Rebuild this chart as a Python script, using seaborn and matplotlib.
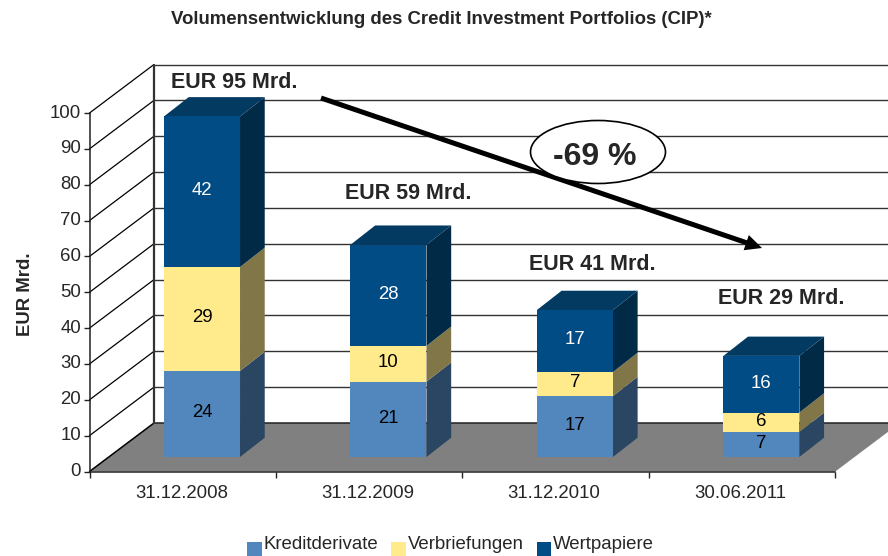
import numpy as np
import seaborn as sns
import matplotlib.pyplot as plt
from matplotlib.patches import Ellipse
from matplotlib.transforms import ScaledTranslation

dates = ["31.12.2008", "31.12.2009", "31.12.2010", "30.06.2011"]
kredit = [24, 21, 17, 7]
verbrief = [29, 10, 6.7, 5.4]
wert = [42, 28.2, 17.3, 15.8]
kredit_lab = ["24", "21", "17", "7"]
verbrief_lab = ["29", "10", "7", "6"]
wert_lab = ["42", "28", "17", "16"]
totals = ["EUR 95 Mrd.", "EUR 59 Mrd.", "EUR 41 Mrd.", "EUR 29 Mrd."]
total_pos = [(171, 83), (345, 193), (529, 265), (718, 299)]
series = ["Kreditderivate", "Verbriefungen", "Wertpapiere"]
front = ["#5287BD", "#FFEB8C", "#014C84"]
side = ["#2A4663", "#807647", "#012A47"]
top_col = "#033A62"

W, H = 888, 556
# axis box in pixels
X0, X1, Y0, Y1 = 89.5, 835.3, 471.5, 113
xu = (X1 - X0) / 4
yu = (Y0 - Y1) / 100
# wall depth and bar depth, in data units
DX, DY = 64.5 / xu, 48.5 / yu
bdx, bdy = 24.7 / xu, 19.3 / yu
shift_x, base = 19.3 / xu, 14.5 / yu
bw = 76 / xu

sns.set_style("white")
plt.rcParams["font.family"] = ["Liberation Sans", "DejaVu Sans"]

fig = plt.figure(figsize=(W / 100, H / 100), dpi=100)
ax = fig.add_axes([X0 / W, 1 - Y0 / H, (X1 - X0) / W, (Y0 - Y1) / H])


def fx(x):
    return x / W


def fy(y):
    return 1 - y / H


# floor and walls
ax.fill([-0.5, 3.5, 3.5 + DX, -0.5 + DX], [0, 0, DY, DY], color="#808080", lw=0, clip_on=False, zorder=1)
for v in range(10, 101, 10):
    ax.plot([-0.5, -0.5 + DX], [v, v + DY], color="black", lw=0.9, clip_on=False, zorder=1)
    ax.plot([-0.5 + DX, 3.5 + DX], [v + DY, v + DY], color="#333333", lw=1.0, clip_on=False, zorder=1)
ax.plot([-0.5, -0.5 + DX], [0, DY], color="black", lw=1.1, clip_on=False, zorder=2)
ax.plot([-0.5 + DX, 3.5 + DX], [DY, DY], color="#222222", lw=1.1, clip_on=False, zorder=2)
ax.plot([-0.5 + DX, -0.5 + DX], [DY, 100 + DY], color="#333333", lw=1.6, clip_on=False, zorder=2)

# stacked bars
pos = np.arange(4) + shift_x
bottom = np.full(4, base)
for vals, labs, name, c, s in zip([kredit, verbrief, wert], [kredit_lab, verbrief_lab, wert_lab], series, front, side):
    vals = np.array(vals)
    sns.barplot(x=pos, y=vals, bottom=bottom, native_scale=True, width=bw, color=c, saturation=1,
                linewidth=0, label=name, ax=ax, zorder=4, errorbar=None)
    for i in range(4):
        xr = pos[i] + bw / 2
        ax.fill([xr, xr + bdx, xr + bdx, xr],
                [bottom[i], bottom[i] + bdy, bottom[i] + vals[i] + bdy, bottom[i] + vals[i]],
                color=s, lw=0, clip_on=False, zorder=3)
        col = "white" if name == "Wertpapiere" else "black"
        ax.text(pos[i], bottom[i] + vals[i] / 2 + 0.3, labs[i], color=col, fontsize=13.4,
                ha="center", va="center", zorder=6)
    bottom = bottom + vals

for i in range(4):
    xl = pos[i] - bw / 2
    ax.fill([xl, xl + bw, xl + bw + bdx, xl + bdx],
            [bottom[i], bottom[i], bottom[i] + bdy, bottom[i] + bdy],
            color=top_col, lw=0, clip_on=False, zorder=3)

ax.set_xlim(-0.5, 3.5)
ax.set_ylim(0, 100)
ax.set_yticks(range(0, 101, 10))
ax.set_xticks(np.arange(-0.5, 3.6, 1))
ax.set_xticklabels([])
ax.tick_params(axis="both", direction="out", length=4.5, width=1, color="#222222", labelsize=13.4,
               left=True, bottom=True, pad=1.5)
up = ScaledTranslation(0, 2 / 100, fig.dpi_scale_trans)
for lab in ax.get_yticklabels():
    lab.set_transform(lab.get_transform() + up)
ax.patch.set_alpha(0)
sns.despine(ax=ax)
for sp in ["left", "bottom"]:
    ax.spines[sp].set_color("#222222")
    ax.spines[sp].set_linewidth(1.1)
    ax.spines[sp].set_zorder(5)
ax.set_ylabel("")
ax.set_xlabel("")

for i, d in enumerate(dates):
    fig.text(fx(X0 + (i + 0.5) * xu - 1.5), fy(494), d, fontsize=13.4, ha="center", va="center")

for t, (px, py) in zip(totals, total_pos):
    fig.text(fx(px), fy(py), t, fontsize=15.5, fontweight="bold", ha="left", va="center", zorder=7)

fig.text(fx(441.5), fy(19), "Volumensentwicklung des Credit Investment Portfolios (CIP)*",
         fontsize=13.4, fontweight="bold", ha="center", va="center")
fig.text(fx(26), fy(294), "EUR Mrd.", fontsize=13.3, fontweight="bold", rotation=90, ha="center", va="center")

# ellipse and arrow
fig.add_artist(Ellipse((fx(598), fy(152)), 135 / W, 63 / H, transform=fig.transFigure,
                       facecolor="white", edgecolor="black", lw=1.2, zorder=8))
fig.text(fx(595), fy(157), "-69 %", fontsize=23, fontweight="bold", ha="center", va="center", zorder=10)
ax.annotate("", xy=(fx(762), fy(248)), xytext=(fx(321), fy(98)), xycoords="figure fraction",
            textcoords="figure fraction", zorder=9, annotation_clip=False,
            arrowprops=dict(arrowstyle="simple,tail_width=0.36,head_width=1.15,head_length=1.2", lw=0, color="black",
                            mutation_scale=10, shrinkA=0, shrinkB=0))

leg = fig.legend(*ax.get_legend_handles_labels(), loc="center", bbox_to_anchor=(fx(450.5), fy(544)), ncol=3, frameon=False,
                 fontsize=13.4, handlelength=0.78, handleheight=0.78, handletextpad=0.1, columnspacing=0.7,
                 borderpad=0, borderaxespad=0)
for h in leg.get_patches():
    h.set_y(h.get_y() - 5)
if ax.get_legend():
    ax.get_legend().remove()

fig.savefig("out.png", dpi=100)
